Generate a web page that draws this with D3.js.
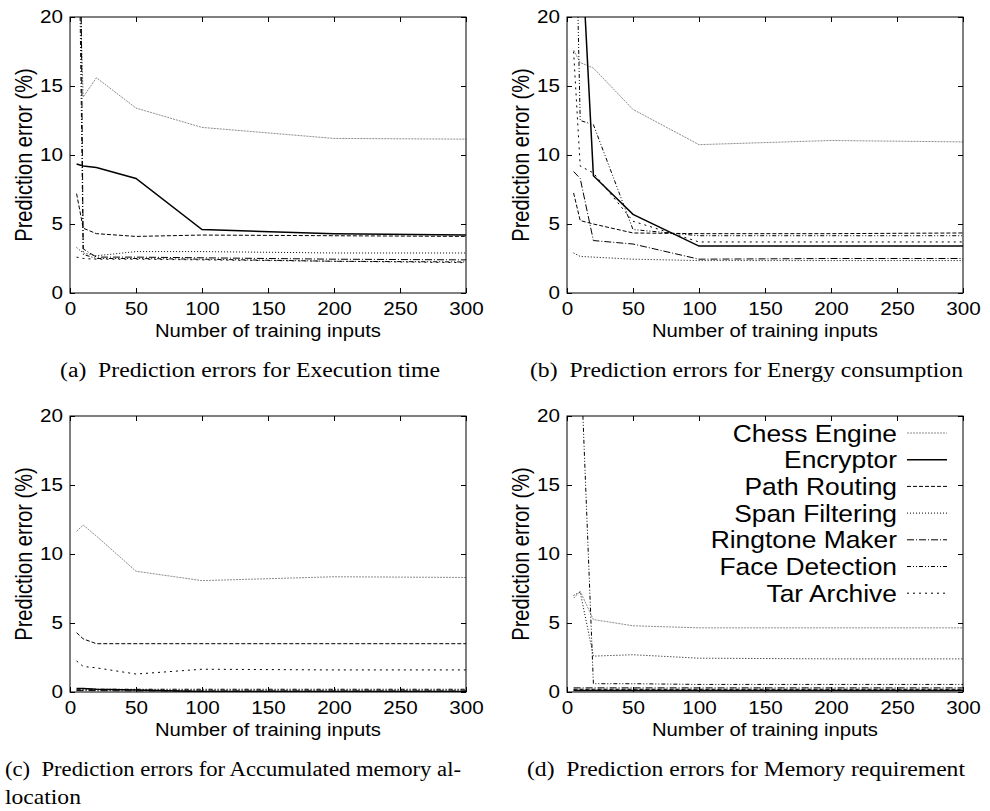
<!DOCTYPE html>
<html>
<head>
<meta charset="UTF-8">
<style>
  body { margin: 0; background: #fff; }
  svg text { font-family: "Liberation Sans", Arial, sans-serif; fill: #000; }
  svg text.caption { font-family: "Liberation Serif", "Times New Roman", serif; }
</style>
</head>
<body>
<svg width="990" height="811"></svg>
<script src="https://d3js.org/d3.v7.min.js"></script>
<script>

const inputs = [5, 10, 20, 50, 100, 200, 300];
const xTicks = [0, 50, 100, 150, 200, 250, 300];
const yTicks = [0, 5, 10, 15, 20];
const apps = ["Chess Engine", "Encryptor", "Path Routing", "Span Filtering",
              "Ringtone Maker", "Face Detection", "Tar Archive"];

// prediction error (%), one row per app, columns follow `inputs`
const execTime = [
    [30, 14.2, 15.6, 13.4, 12.0, 11.2, 11.15],
    [9.35, 9.2, 9.1, 8.3, 4.6, 4.3, 4.2],
    [7.2, 4.7, 4.3, 4.1, 4.2, 4.15, 4.1],
    [3.3, 2.9, 2.7, 3.0, 3.0, 2.9, 2.9],
    [60, 3.2, 2.6, 2.6, 2.55, 2.45, 2.4],
    [40, 2.8, 2.5, 2.5, 2.45, 2.3, 2.25],
    [2.6, 2.5, 2.45, 2.45, 2.4, 2.3, 2.2]
];
const energy = [
    [17.6, 16.7, 16.3, 13.3, 10.75, 11.05, 10.95],
    [40, 27, 8.5, 5.7, 3.4, 3.4, 3.4],
    [7.25, 5.25, 5.0, 4.35, 4.3, 4.3, 4.35],
    [2.9, 2.65, 2.6, 2.45, 2.35, 2.35, 2.35],
    [8.8, 8.3, 3.8, 3.55, 2.45, 2.5, 2.5],
    [35, 12.5, 12.2, 4.6, 4.15, 4.15, 4.15],
    [17.5, 9.2, 8.7, 5.2, 3.7, 3.7, 3.7]
];
const memAlloc = [
    [11.65, 12.1, 11.3, 8.75, 8.07, 8.35, 8.3],
    [0.25, 0.25, 0.2, 0.15, 0.03, 0.03, 0.03],
    [4.3, 3.85, 3.5, 3.5, 3.5, 3.5, 3.5],
    [0.15, 0.15, 0.15, 0.15, 0.15, 0.15, 0.15],
    [0.1, 0.1, 0.1, 0.08, 0.08, 0.08, 0.08],
    [0.2, 0.2, 0.2, 0.2, 0.2, 0.2, 0.2],
    [2.25, 1.85, 1.75, 1.3, 1.65, 1.6, 1.6]
];
const memReq = [
    [6.8, 7.3, 5.25, 4.8, 4.65, 4.65, 4.65],
    [0.1, 0.1, 0.1, 0.1, 0.1, 0.1, 0.1],
    [0.2, 0.2, 0.2, 0.2, 0.2, 0.2, 0.2],
    [7.0, 7.25, 2.6, 2.7, 2.45, 2.4, 2.4],
    [0.3, 0.3, 0.3, 0.3, 0.3, 0.3, 0.3],
    [40, 25, 0.6, 0.6, 0.55, 0.55, 0.55],
    [0.15, 0.15, 0.15, 0.15, 0.15, 0.15, 0.15]
];

// line styles, same order as apps
const colors = ["#8c8c8c", "#000", "#000", "#000", "#000", "#000", "#000"];
const widths = [1, 1.5, 1, 1, 1, 1, 1];
const dashes = ["2,1", null, "4,2", "1,2", "7,2,1,2", "4,2,1,2,1,2", "2,4"];

const W = 396, H = 276;
const stretch = 1.18;   // the picture is a bit wider than gnuplot's font

const svg = d3.select("svg");

const x = d3.scaleLinear().domain([0, 300]).range([0, W]);
const y = d3.scaleLinear().domain([0, 20]).range([H, 0]);

const line = d3.line()
    .x((d, i) => x(inputs[i]))
    .y(d => y(d));

const panels = [
    { data: execTime, left: 70, top: 17, cap: ["(a)\u2002Prediction errors for Execution time"], cx: 60, cw: [380] },
    { data: energy, left: 567, top: 17, cap: ["(b)\u2002Prediction errors for Energy consumption"], cx: 530, cw: [433] },
    { data: memAlloc, left: 70, top: 416, cap: ["(c)\u2002Prediction errors for Accumulated memory al-", "location"], cx: 5, cw: [456, null] },
    { data: memReq, left: 567, top: 416, cap: ["(d)\u2002Prediction errors for Memory requirement"], cx: 527, cw: [438] }
];

panels.forEach((p, pi) => {
    let g = svg.append("g").attr("transform", `translate(${p.left},${p.top})`);

    g.append("clipPath").attr("id", "clip" + pi)
        .append("rect").attr("width", W).attr("height", H);

    // series
    g.append("g").attr("clip-path", `url(#clip${pi})`)
        .selectAll("path")
        .data(p.data)
        .enter()
        .append("path")
        .attr("d", d => line(d))
        .attr("fill", "none")
        .attr("stroke", (d, i) => colors[i])
        .attr("stroke-width", (d, i) => widths[i])
        .attr("stroke-dasharray", (d, i) => dashes[i]);

    // axes, gnuplot style: ticks inside on all four sides
    g.append("g").attr("transform", `translate(0,${H})`)
        .call(d3.axisBottom(x).tickValues(xTicks).tickSizeInner(-5).tickSizeOuter(0).tickPadding(10));
    g.append("g")
        .call(d3.axisTop(x).tickValues(xTicks).tickSizeInner(-5).tickSizeOuter(0).tickFormat(""));
    g.append("g")
        .call(d3.axisLeft(y).tickValues(yTicks).tickSizeInner(-5).tickSizeOuter(0).tickPadding(6));
    g.append("g").attr("transform", `translate(${W},0)`)
        .call(d3.axisRight(y).tickValues(yTicks).tickSizeInner(-5).tickSizeOuter(0).tickFormat(""));

    g.selectAll(".domain").remove();
    g.selectAll(".tick line").attr("stroke", "#000");
    g.selectAll(".tick text")
        .style("font-size", "17.5px")
        .style("font-family", "'Liberation Sans', Arial, sans-serif")
        .attr("transform", `scale(${stretch},1)`);

    g.append("rect")
        .attr("width", W).attr("height", H)
        .attr("fill", "none").attr("stroke", "#000").attr("stroke-width", 1);

    g.append("text")
        .attr("x", W / 2).attr("y", H + 44)
        .attr("text-anchor", "middle")
        .style("font-size", "17.5px")
        .attr("textLength", 226).attr("lengthAdjust", "spacingAndGlyphs")
        .text("Number of training inputs");

    g.append("text")
        .attr("transform", `translate(-38,${H / 2}) scale(${stretch},1) rotate(-90)`)
        .attr("text-anchor", "middle")
        .style("font-size", "20px")
        .text("Prediction error (%)");

    // caption under the panel
    p.cap.forEach((c, li) => {
        let t = svg.append("text").attr("class", "caption")
            .attr("x", p.cx).attr("y", p.top + H + 84 + li * 28)
            .style("font-size", "20px")
            .text(c);
        if (p.cw[li]) t.attr("textLength", p.cw[li]).attr("lengthAdjust", "spacingAndGlyphs");
        else t.attr("transform", `translate(${p.cx},0) scale(${stretch},1) translate(${-p.cx},0)`);
    });
});

// legend inside panel (d)
let legend = svg.append("g").attr("transform", "translate(897,433)");
apps.forEach((a, i) => {
    let row = legend.append("g").attr("transform", `translate(0,${i * 26.7})`);
    row.append("text")
        .attr("text-anchor", "end")
        .attr("dy", "0.36em")
        .attr("transform", "scale(1.1,1)")
        .style("font-size", "24px")
        .text(a);
    row.append("line")
        .attr("x1", 10).attr("x2", 50)
        .attr("stroke", colors[i])
        .attr("stroke-width", widths[i])
        .attr("stroke-dasharray", dashes[i]);
});

</script>
</body>
</html>
